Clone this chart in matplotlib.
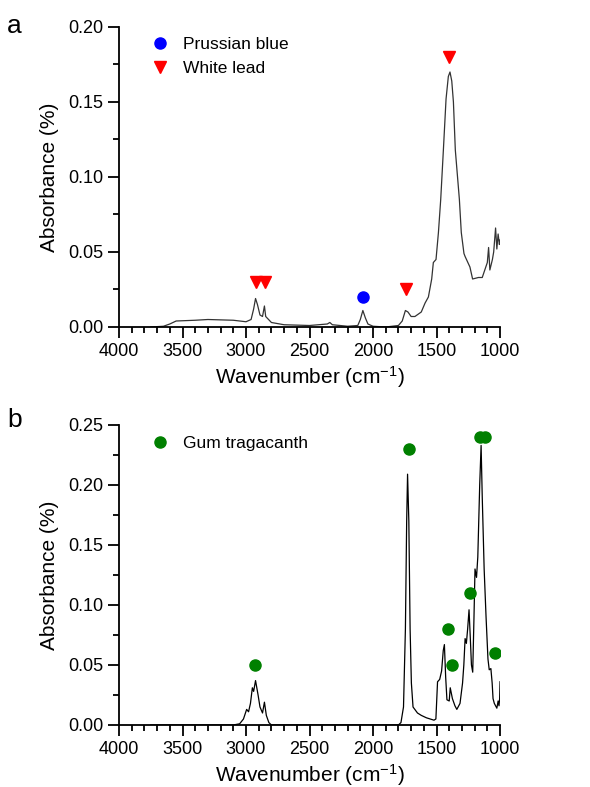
import matplotlib
matplotlib.use("Agg")
import matplotlib.pyplot as plt
from matplotlib.ticker import MultipleLocator, FormatStrFormatter

plt.rcParams["font.family"] = ["Liberation Sans", "DejaVu Sans"]
plt.rcParams["mathtext.default"] = "regular"

# spectrum a (paint sample)
wn_a = [3750, 3650, 3600, 3550, 3400, 3300, 3100, 3000, 2960, 2940, 2925, 2910, 2890,
        2870, 2855, 2845, 2800, 2700, 2500, 2360, 2340, 2320, 2200, 2120, 2100, 2080,
        2060, 2040, 2000, 1900, 1800, 1770, 1745, 1725, 1700, 1670, 1620, 1590, 1564,
        1538, 1525, 1504, 1485, 1467, 1446, 1425, 1407, 1394, 1380, 1367, 1352, 1320,
        1305, 1284, 1275, 1237, 1216, 1170, 1140, 1120, 1100, 1090, 1080, 1060, 1050,
        1035, 1025, 1015, 1005, 1000]
abs_a = [0.000, 0.0005, 0.002, 0.004, 0.0045, 0.005, 0.0045, 0.0035, 0.005, 0.012,
         0.019, 0.015, 0.008, 0.007, 0.014, 0.007, 0.003, 0.0015, 0.001, 0.002, 0.003,
         0.0015, 0.0005, 0.001, 0.005, 0.011, 0.006, 0.002, 0.0005, 0.000, 0.001, 0.004,
         0.011, 0.010, 0.007, 0.007, 0.010, 0.016, 0.020, 0.032, 0.043, 0.045, 0.063,
         0.085, 0.118, 0.152, 0.167, 0.170, 0.164, 0.150, 0.118, 0.085, 0.063, 0.049,
         0.047, 0.040, 0.032, 0.033, 0.033, 0.038, 0.043, 0.053, 0.038, 0.045, 0.050,
         0.066, 0.052, 0.062, 0.055, 0.058]

# spectrum b (gum tragacanth reference)
wn_b = [3750, 3100, 3050, 3020, 2995, 2980, 2965, 2950, 2940, 2925, 2905, 2890, 2870,
        2855, 2840, 2820, 2800, 1800, 1780, 1760, 1745, 1735, 1728, 1718, 1708, 1698,
        1685, 1650, 1620, 1580, 1520, 1505, 1492, 1475, 1460, 1447, 1438, 1428, 1418,
        1400, 1392, 1375, 1355, 1340, 1315, 1295, 1285, 1275, 1265, 1255, 1244, 1235,
        1225, 1215, 1205, 1197, 1185, 1175, 1160, 1149, 1140, 1125, 1110, 1095, 1085,
        1072, 1062, 1055, 1045, 1035, 1025, 1015, 1008, 1003, 1000]
abs_b = [0.000, 0.000, 0.001, 0.005, 0.013, 0.011, 0.018, 0.031, 0.028, 0.037, 0.025,
         0.015, 0.010, 0.019, 0.008, 0.002, 0.000, 0.000, 0.002, 0.015, 0.080, 0.170,
         0.209, 0.170, 0.080, 0.035, 0.015, 0.010, 0.008, 0.006, 0.004, 0.005, 0.036,
         0.038, 0.045, 0.062, 0.067, 0.040, 0.021, 0.020, 0.031, 0.022, 0.016, 0.013,
         0.018, 0.035, 0.050, 0.072, 0.068, 0.080, 0.096, 0.075, 0.050, 0.044, 0.090,
         0.130, 0.123, 0.140, 0.200, 0.233, 0.190, 0.130, 0.090, 0.055, 0.046, 0.047,
         0.035, 0.022, 0.018, 0.016, 0.014, 0.020, 0.016, 0.022, 0.036]

# band assignments
prussian_x = [2080]
prussian_y = [0.020]
lead_x = [2925, 2850, 1740, 1400]
lead_y = [0.030, 0.030, 0.025, 0.180]
gum_x = [2930, 1720, 1410, 1375, 1240, 1155, 1120, 1040]
gum_y = [0.050, 0.230, 0.080, 0.050, 0.110, 0.240, 0.240, 0.060]

fig = plt.figure(figsize=(5.9, 7.87), dpi=100)
ax_a = fig.add_axes([0.2017, 0.5845, 0.6458, 0.3812])
ax_b = fig.add_axes([0.2017, 0.0788, 0.6458, 0.3812])


def style(ax, ymax):
    ax.set_xlim(4000, 1000)
    ax.set_ylim(0, ymax)
    ax.spines["top"].set_visible(False)
    ax.spines["right"].set_visible(False)
    for s in ["left", "bottom"]:
        ax.spines[s].set_linewidth(1.3)
    ax.xaxis.set_major_locator(MultipleLocator(500))
    ax.xaxis.set_minor_locator(MultipleLocator(100))
    ax.yaxis.set_major_locator(MultipleLocator(0.05))
    ax.yaxis.set_minor_locator(MultipleLocator(0.025))
    ax.yaxis.set_major_formatter(FormatStrFormatter("%.2f"))
    ax.tick_params(which="major", length=8, width=1.3, labelsize=13, direction="out")
    ax.tick_params(which="minor", length=4.5, width=1.3, direction="out")
    ax.set_xlabel("Wavenumber (cm$^{-1}$)", fontsize=15, labelpad=3)
    ax.set_ylabel("Absorbance (%)", fontsize=15, labelpad=6)


ax_a.plot(wn_a, abs_a, color="#333333", lw=0.9)
ax_a.plot(prussian_x, prussian_y, "o", color="#0000ff", ms=8, ls="none", label="Prussian blue")
ax_a.plot(lead_x, lead_y, "v", color="#ff0000", ms=9, ls="none", label="White lead")
style(ax_a, 0.20)
ax_a.legend(loc="upper left", bbox_to_anchor=(0.045, 1.02), frameon=False, fontsize=12.5,
            handlelength=1.0, handletextpad=0.8, labelspacing=0.55, numpoints=1)

ax_b.plot(wn_b, abs_b, color="black", lw=0.9)
ax_b.plot(gum_x, gum_y, "o", color="#008000", ms=8, ls="none", label="Gum tragacanth")
style(ax_b, 0.25)
ax_b.legend(loc="upper left", bbox_to_anchor=(0.045, 1.017), frameon=False, fontsize=12.5,
            handlelength=1.0, handletextpad=0.8, numpoints=1)

fig.text(0.012, 0.958, "a", fontsize=19)
fig.text(0.012, 0.457, "b", fontsize=19)

fig.savefig("out.png", dpi=100)
